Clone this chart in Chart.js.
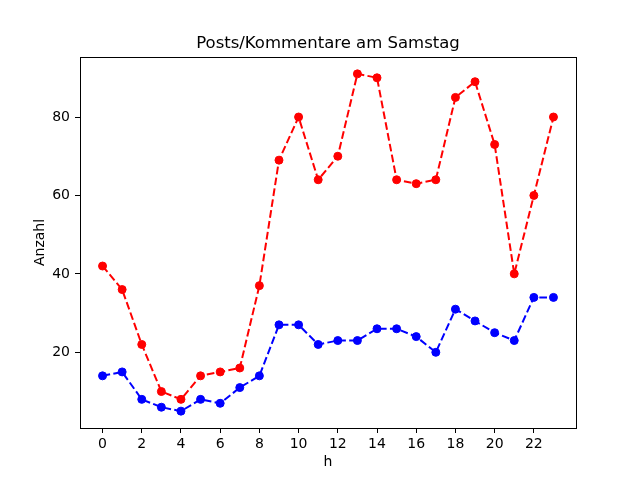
<!DOCTYPE html>
<html>
<head>
<meta charset="utf-8">
<script src="https://cdn.jsdelivr.net/npm/chart.js@4.4.1/dist/chart.umd.min.js"></script>
<style>
  html, body { margin: 0; padding: 0; background: #fff; }
  canvas { display: block; }
</style>
</head>
<body>
<canvas id="c" width="640" height="480"></canvas>
<script>
// Daten
const stunden = [0, 1, 2, 3, 4, 5, 6, 7, 8, 9, 10, 11, 12, 13, 14, 15, 16, 17, 18, 19, 20, 21, 22, 23];
const posts = [42, 36, 22, 10, 8, 14, 15, 16, 37, 69, 80, 64, 70, 91, 90, 64, 63, 64, 85, 89, 73, 40, 60, 80];
const kommentare = [14, 15, 8, 6, 5, 8, 7, 11, 14, 27, 27, 22, 23, 23, 26, 26, 24, 20, 31, 28, 25, 23, 34, 34];
const xTicks = [0, 2, 4, 6, 8, 10, 12, 14, 16, 18, 20, 22];
const yTicks = [20, 40, 60, 80];

const font = 'DejaVu Sans';

function toPoints(ys) {
    return stunden.map((h, i) => ({ x: h, y: ys[i] }));
}

function serie(ys, color) {
    return {
        data: toPoints(ys),
        borderColor: color,
        backgroundColor: color,
        pointBackgroundColor: color,
        pointBorderColor: color,
        pointRadius: 4,
        pointBorderWidth: 1,
        borderWidth: 2,
        borderDash: [7.7, 3.3],
        fill: false,
        tension: 0
    };
}

// Rahmen oben/rechts wie bei matplotlib
const rahmen = {
    id: 'rahmen',
    afterDraw(chart) {
        const a = chart.chartArea;
        const ctx = chart.ctx;
        ctx.save();
        ctx.strokeStyle = '#000';
        ctx.lineWidth = 1;
        ctx.strokeRect(Math.round(a.left) + 0.5, Math.round(a.top) + 0.5,
            Math.round(a.right - a.left), Math.round(a.bottom - a.top));
        ctx.restore();
    }
};

new Chart(document.getElementById('c'), {
    type: 'line',
    data: {
        datasets: [serie(kommentare, '#0000ff'), serie(posts, '#ff0000')]
    },
    options: {
        responsive: false,
        animation: false,
        devicePixelRatio: 1,
        layout: { padding: { left: 0, right: 64, top: 0, bottom: 0 } },
        plugins: {
            legend: { display: false },
            tooltip: { enabled: false },
            title: {
                display: true,
                text: 'Posts/Kommentare am Samstag',
                color: '#000',
                fullSize: false,
                font: { family: font, size: 16.5, weight: 'normal', lineHeight: 1.2 },
                padding: { top: 34, bottom: 3.2 }
            }
        },
        scales: {
            x: {
                type: 'linear',
                min: -1.15,
                max: 24.15,
                afterBuildTicks: (s) => { s.ticks = xTicks.map(v => ({ value: v })); },
                afterFit: (s) => { s.height = 52; },
                grid: { drawOnChartArea: false, tickLength: 5, tickColor: '#000', tickWidth: 1 },
                border: { color: '#000', width: 1 },
                ticks: { color: '#000', padding: 3, maxRotation: 0, font: { family: font, size: 14 } },
                title: { display: true, text: 'h', color: '#000', padding: { top: 0, bottom: 9.6 }, font: { family: font, size: 14 } }
            },
            y: {
                min: 0.7,
                max: 95.3,
                afterBuildTicks: (s) => { s.ticks = yTicks.map(v => ({ value: v })); },
                afterFit: (s) => { s.width = 80; },
                grid: { drawOnChartArea: false, tickLength: 5, tickColor: '#000', tickWidth: 1 },
                border: { color: '#000', width: 1 },
                ticks: { color: '#000', padding: 5, font: { family: font, size: 14 } },
                title: { display: true, text: 'Anzahl', color: '#000', padding: { top: 31.6, bottom: 0 }, font: { family: font, size: 14 } }
            }
        }
    },
    plugins: [rahmen]
});
</script>
</body>
</html>
